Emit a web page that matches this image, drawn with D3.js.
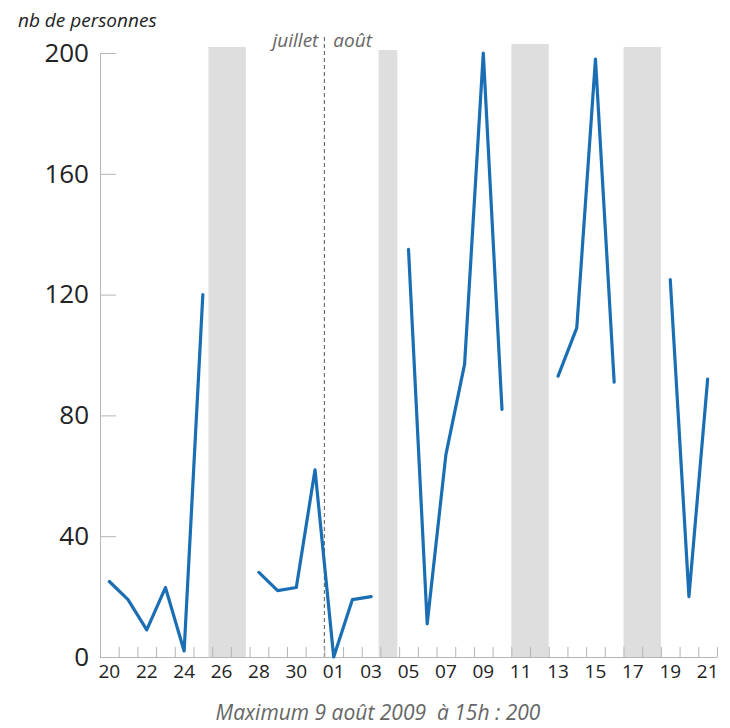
<!DOCTYPE html>
<html>
<head>
<meta charset="utf-8">
<script src="https://cdn.jsdelivr.net/npm/d3@7"></script>
<style>
  body { margin: 0; background: #fff; }
  svg text { font-family: "Open Sans", "Noto Sans", sans-serif; }
</style>
</head>
<body>
<svg id="chart" width="730" height="728"></svg>
<script>
// days from 20 July to 21 August 2009
let dayLabels = ["20","21","22","23","24","25","26","27","28","29","30","31",
                 "01","02","03","04","05","06","07","08","09","10","11","12",
                 "13","14","15","16","17","18","19","20","21"];
// nb de personnes, null = pas de mesure
let persons = [25, 19, 9, 23, 2, 120, null, null, 28, 22, 23, 62,
               0, 19, 20, null, 135, 11, 67, 97, 200, 82, null, null,
               93, 109, 198, 91, null, null, 125, 20, 92];
let yTicks = [0, 40, 80, 120, 160, 200];
// shaded periods (in day index units)
let shadeStart = [5.3, 14.4, 21.5, 27.5];
let shadeEnd = [7.3, 15.4, 23.5, 29.5];
let shadeTop = [202, 201, 203, 202];
let monthSplit = 11.5; // between 31 juillet and 01 août

let svg = d3.select("#chart");

let x = d3.scaleLinear()
    .domain([-0.5, dayLabels.length - 0.5])
    .range([100, 717]);
let y = d3.scaleLinear()
    .domain([0, 200])
    .range([657, 53]);

// gray bands
svg.selectAll("rect.shade")
    .data(shadeStart)
    .enter()
    .append("rect")
    .attr("class", "shade")
    .attr("x", d => x(d))
    .attr("width", (d, i) => x(shadeEnd[i]) - x(d))
    .attr("y", (d, i) => y(shadeTop[i]))
    .attr("height", (d, i) => y(0) - y(shadeTop[i]))
    .attr("fill", "#dedede");

// month separator
svg.append("line")
    .attr("x1", x(monthSplit))
    .attr("x2", x(monthSplit))
    .attr("y1", 37)
    .attr("y2", y(0))
    .attr("stroke", "#555")
    .attr("stroke-width", 1)
    .attr("stroke-dasharray", "4,3");

svg.append("text")
    .attr("x", x(monthSplit) - 6)
    .attr("y", 47)
    .attr("text-anchor", "end")
    .attr("font-style", "italic")
    .attr("font-size", 19)
    .attr("fill", "#666")
    .text("juillet");
svg.append("text")
    .attr("x", x(monthSplit) + 9)
    .attr("y", 47)
    .attr("font-style", "italic")
    .attr("font-size", 19)
    .attr("fill", "#666")
    .text("août");

// x axis: a tick at every day boundary
let bounds = d3.range(dayLabels.length + 1).map(i => i - 0.5);
let xAxis = svg.append("g")
    .attr("transform", "translate(0," + y(0) + ")")
    .call(d3.axisBottom(x).tickValues(bounds).tickSize(-10).tickSizeOuter(0).tickFormat(""));
xAxis.selectAll("path, line").attr("stroke", "#b5b5b5");

// a label every other day
let labelIdx = d3.range(0, dayLabels.length, 2);
svg.selectAll("text.xlab")
    .data(labelIdx)
    .enter()
    .append("text")
    .attr("class", "xlab")
    .attr("x", i => x(i))
    .attr("y", 678)
    .attr("text-anchor", "middle")
    .attr("font-size", 19)
    .attr("fill", "#222")
    .text(i => dayLabels[i]);

// y axis
let yAxis = svg.append("g")
    .attr("transform", "translate(" + x(-0.5) + ",0)")
    .call(d3.axisLeft(y).tickValues(yTicks).tickSize(-16).tickSizeOuter(0).tickPadding(11));
yAxis.selectAll("path, line").attr("stroke", "#b5b5b5");
yAxis.selectAll("text")
    .attr("font-size", 26)
    .attr("fill", "#222")
    .attr("font-family", "'Open Sans', sans-serif");

// data line
let line = d3.line()
    .defined(d => d != null)
    .x((d, i) => x(i))
    .y(d => y(d));

svg.append("path")
    .datum(persons)
    .attr("d", line)
    .attr("fill", "none")
    .attr("stroke", "#1a6eb4")
    .attr("stroke-width", 3.2)
    .attr("stroke-linejoin", "round")
    .attr("stroke-linecap", "round");

// titles
svg.append("text")
    .attr("x", 18)
    .attr("y", 27)
    .attr("font-style", "italic")
    .attr("font-size", 19)
    .attr("fill", "#222")
    .text("nb de personnes");

svg.append("text")
    .attr("x", 378)
    .attr("y", 720)
    .attr("text-anchor", "middle")
    .attr("font-style", "italic")
    .attr("font-size", 21)
    .attr("fill", "#666")
    .style("white-space", "pre")
    .text("Maximum 9 août 2009  à 15h : 200");
</script>
</body>
</html>
